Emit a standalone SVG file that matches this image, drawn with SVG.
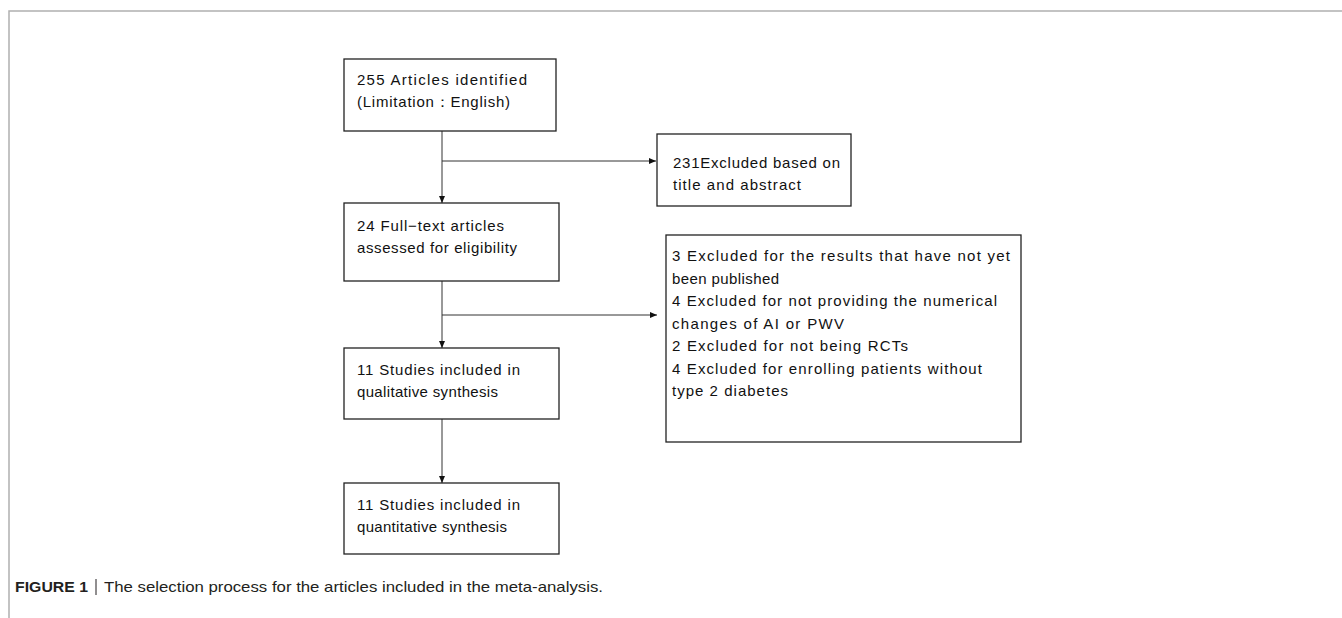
<svg xmlns="http://www.w3.org/2000/svg" width="1342" height="618" viewBox="0 0 1342 618">
<style>
.box{fill:#fff;stroke:#222;stroke-width:1.3}
.t{font-family:"Liberation Sans",Arial,sans-serif;font-size:15px;fill:#111}
.ln{stroke:#333;stroke-width:1;fill:none}
.frame{stroke:#b0b0b0;stroke-width:1.5;fill:none}
.cap{font-family:"Liberation Sans",Arial,sans-serif;font-size:15px;fill:#231f20}
</style>
<defs>
<marker id="ah" markerWidth="7" markerHeight="6" refX="7" refY="3" orient="auto" markerUnits="userSpaceOnUse">
<path d="M0,0 L7,3 L0,6 Z" fill="#111"/>
</marker>
</defs>
<path class="frame" d="M9,618 L9,11 L1342,11"/>
<g id="connectors">
<line class="ln" x1="442" y1="131" x2="442" y2="203" marker-end="url(#ah)"/>
<line class="ln" x1="442" y1="161" x2="656" y2="161" marker-end="url(#ah)"/>
<line class="ln" x1="442" y1="281" x2="442" y2="348" marker-end="url(#ah)"/>
<line class="ln" x1="442" y1="315" x2="657" y2="315" marker-end="url(#ah)"/>
<line class="ln" x1="442" y1="419" x2="442" y2="483" marker-end="url(#ah)"/>
</g>
<g id="n1">
<rect class="box" x="344" y="59" width="212" height="72"/>
<text class="t" x="357" y="85" textLength="170" lengthAdjust="spacing">255 Articles identified</text>
<text class="t" x="357" y="107" textLength="153" lengthAdjust="spacing">(Limitation：English)</text>
</g>
<g id="n2">
<rect class="box" x="657" y="134" width="194" height="72"/>
<text class="t" x="673" y="168" textLength="167" lengthAdjust="spacing">231Excluded based on</text>
<text class="t" x="673" y="190" textLength="128" lengthAdjust="spacing">title and abstract</text>
</g>
<g id="n3">
<rect class="box" x="344" y="203" width="215" height="78"/>
<text class="t" x="357" y="231" textLength="147" lengthAdjust="spacing">24 Full−text articles</text>
<text class="t" x="357" y="253" textLength="160" lengthAdjust="spacing">assessed for eligibility</text>
</g>
<g id="n4">
<rect class="box" x="666" y="235" width="355" height="207"/>
<text class="t" x="672" y="261" textLength="338" lengthAdjust="spacing">3 Excluded for the results that have not yet</text>
<text class="t" x="672" y="283.5" textLength="107" lengthAdjust="spacing">been published</text>
<text class="t" x="672" y="306" textLength="325" lengthAdjust="spacing">4 Excluded for not providing the numerical</text>
<text class="t" x="672" y="328.5" textLength="172" lengthAdjust="spacing">changes of AI or PWV</text>
<text class="t" x="672" y="351" textLength="236" lengthAdjust="spacing">2 Excluded for not being RCTs</text>
<text class="t" x="672" y="373.5" textLength="310" lengthAdjust="spacing">4 Excluded for enrolling patients without</text>
<text class="t" x="672" y="396" textLength="116" lengthAdjust="spacing">type 2 diabetes</text>
</g>
<g id="n5">
<rect class="box" x="344" y="348" width="215" height="71"/>
<text class="t" x="357" y="375" textLength="163" lengthAdjust="spacing">11 Studies included in</text>
<text class="t" x="357" y="397" textLength="141" lengthAdjust="spacing">qualitative synthesis</text>
</g>
<g id="n6">
<rect class="box" x="344" y="483" width="215" height="71"/>
<text class="t" x="357" y="510" textLength="163" lengthAdjust="spacing">11 Studies included in</text>
<text class="t" x="357" y="532" textLength="150" lengthAdjust="spacing">quantitative synthesis</text>
</g>
<g id="caption">
<text class="cap" x="15" y="592" font-weight="bold" textLength="73" lengthAdjust="spacingAndGlyphs">FIGURE 1</text>
<line x1="96" y1="579" x2="96" y2="595" stroke="#231f20" stroke-width="1"/>
<text class="cap" x="104" y="592" textLength="499" lengthAdjust="spacingAndGlyphs">The selection process for the articles included in the meta-analysis.</text>
</g>
</svg>
